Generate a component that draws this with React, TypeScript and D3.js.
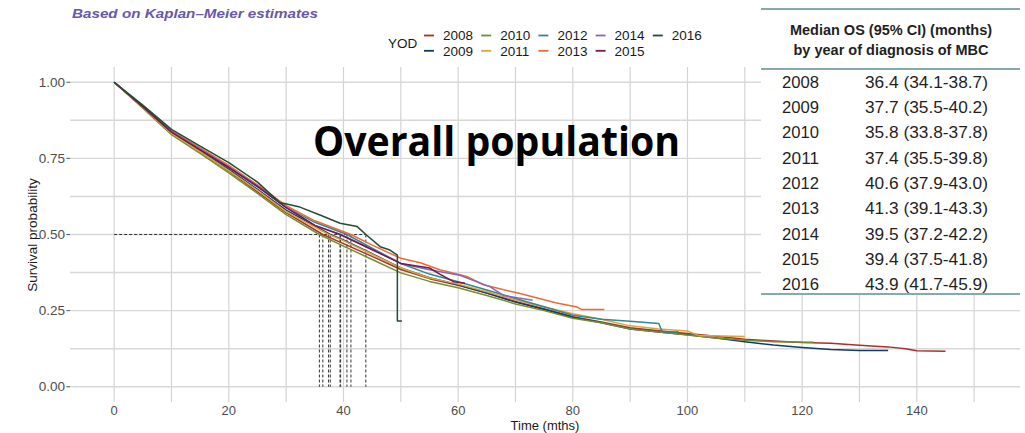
import React from "react";
import { scaleLinear, line, curveLinear, range } from "d3";

// survival curves, one pair of arrays per year of diagnosis
const t2008 = [0, 5, 10, 15, 20, 25, 30, 36.4, 40, 45, 50, 55, 60, 65, 70, 75, 80, 85, 90, 95, 100, 105, 110, 115, 120, 125, 130, 135, 138, 140, 145];
const s2008 = [1, 0.918, 0.832, 0.772, 0.708, 0.64, 0.572, 0.5, 0.47, 0.428, 0.385, 0.355, 0.333, 0.308, 0.28, 0.256, 0.23, 0.213, 0.194, 0.184, 0.175, 0.166, 0.156, 0.15, 0.145, 0.143, 0.136, 0.131, 0.125, 0.118, 0.117];

const t2009 = [0, 5, 10, 15, 20, 25, 30, 37.7, 40, 45, 50, 55, 60, 65, 70, 75, 80, 85, 90, 95, 100, 105, 110, 115, 120, 125, 130, 135];
const s2009 = [1, 0.92, 0.836, 0.776, 0.714, 0.648, 0.58, 0.5, 0.482, 0.437, 0.39, 0.358, 0.335, 0.308, 0.278, 0.254, 0.228, 0.21, 0.19, 0.18, 0.171, 0.16, 0.148, 0.137, 0.129, 0.122, 0.119, 0.119];

const t2010 = [0, 5, 10, 15, 20, 25, 30, 35.8, 40, 45, 50, 55, 60, 65, 70, 75, 80, 85, 90, 95, 100, 105, 110, 115, 122];
const s2010 = [1, 0.915, 0.828, 0.766, 0.702, 0.635, 0.565, 0.5, 0.462, 0.418, 0.374, 0.346, 0.325, 0.3, 0.272, 0.25, 0.225, 0.21, 0.19, 0.18, 0.17, 0.16, 0.153, 0.148, 0.146];

const t2011 = [0, 5, 10, 15, 20, 25, 30, 37.4, 40, 45, 50, 55, 60, 65, 70, 75, 80, 85, 90, 95, 100, 102, 110];
const s2011 = [1, 0.918, 0.832, 0.772, 0.71, 0.645, 0.575, 0.5, 0.48, 0.435, 0.39, 0.357, 0.337, 0.312, 0.285, 0.262, 0.24, 0.222, 0.2, 0.19, 0.183, 0.168, 0.165];

const t2012 = [0, 5, 10, 15, 20, 25, 30, 35, 40.6, 45, 50, 55, 60, 65, 70, 75, 80, 85, 90, 95, 95.6, 98.5];
const s2012 = [1, 0.922, 0.84, 0.78, 0.72, 0.656, 0.59, 0.54, 0.5, 0.455, 0.405, 0.37, 0.345, 0.318, 0.29, 0.263, 0.235, 0.222, 0.215, 0.208, 0.18, 0.18];

const t2013 = [0, 5, 10, 15, 20, 25, 30, 35, 41.3, 45, 50, 53.4, 56.8, 61.5, 64.4, 70.8, 77, 80.7, 81.5, 85.5];
const s2013 = [1, 0.92, 0.84, 0.784, 0.727, 0.663, 0.595, 0.545, 0.5, 0.465, 0.422, 0.407, 0.384, 0.362, 0.335, 0.306, 0.276, 0.262, 0.254, 0.254];

const t2014 = [0, 5, 10, 15, 20, 25, 30, 35, 39.5, 45, 50, 55, 60.3, 65.6, 67.9, 73];
const s2014 = [1, 0.92, 0.838, 0.78, 0.722, 0.66, 0.59, 0.53, 0.5, 0.452, 0.405, 0.384, 0.366, 0.328, 0.3, 0.284];

const t2015 = [0, 5, 10, 15, 20, 25, 30, 35, 39.4, 45, 50, 55, 56.8, 59.2, 61.2];
const s2015 = [1, 0.92, 0.836, 0.778, 0.72, 0.658, 0.588, 0.53, 0.5, 0.45, 0.405, 0.39, 0.37, 0.345, 0.34];

const t2016 = [0, 5, 10, 15, 20, 25, 28.9, 32.4, 35.9, 39.4, 42.4, 43.9, 46.4, 48.1, 49.4, 49.4, 50.2];
const s2016 = [1, 0.925, 0.845, 0.79, 0.736, 0.672, 0.605, 0.59, 0.564, 0.537, 0.526, 0.5, 0.46, 0.449, 0.432, 0.216, 0.216];

const years = [2008, 2009, 2010, 2011, 2012, 2013, 2014, 2015, 2016];
const colors = ["#a8302f", "#123a68", "#728f2e", "#dca43c", "#33888a", "#ee6a33", "#8766c2", "#701a4f", "#214f32"];
const times = [t2008, t2009, t2010, t2011, t2012, t2013, t2014, t2015, t2016];
const survs = [s2008, s2009, s2010, s2011, s2012, s2013, s2014, s2015, s2016];

// table on the right
const medianOS = [36.4, 37.7, 35.8, 37.4, 40.6, 41.3, 39.5, 39.4, 43.9];
const ciLow = [34.1, 35.5, 33.8, 35.5, 37.9, 39.1, 37.2, 37.5, 41.7];
const ciHigh = [38.7, 40.2, 37.8, 39.8, 43.0, 43.3, 42.2, 41.8, 45.9];

const xTicks = [0, 20, 40, 60, 80, 100, 120, 140];
const yTicks = [0, 0.25, 0.5, 0.75, 1];

const W = 1025;
const H = 433;
const font = "'Liberation Sans', Arial, Helvetica, sans-serif";

export default function App() {
  const x = scaleLinear().domain([-7.7, 158]).range([70, 1020]);
  const y = scaleLinear().domain([-0.05, 1.05]).range([402, 67]);

  const path = line<[number, number]>()
    .x((d) => x(d[0]))
    .y((d) => y(d[1]))
    .curve(curveLinear);

  const vGrid = range(0, 151, 10);
  const hGrid = range(0, 1.0001, 0.125);
  const maxMedian = Math.max(...medianOS);

  const rowY = (i: number) => 82 + i * 25.3;

  return (
    <svg
      width={W}
      height={H}
      style={{ position: "absolute", left: 0, top: 0, background: "#fff" }}
      fontFamily={font}
    >
      {/* grid */}
      {vGrid.map((v) => (
        <line key={`vg${v}`} x1={x(v)} x2={x(v)} y1={67} y2={402} stroke="#d3d3d3" strokeWidth={1.2} />
      ))}
      {hGrid.map((v) => (
        <line key={`hg${v}`} x1={70} x2={1020} y1={y(v)} y2={y(v)} stroke="#d8d8d8" strokeWidth={1.4} />
      ))}

      {/* y axis */}
      {yTicks.map((v) => (
        <g key={`yt${v}`}>
          <line x1={66.5} x2={70} y1={y(v)} y2={y(v)} stroke="#4d4d4d" strokeWidth={1} />
          <text x={65} y={y(v)} dy="0.35em" textAnchor="end" fontSize={13.5} fill="#4d4d4d">
            {v.toFixed(2)}
          </text>
        </g>
      ))}
      <text
        transform={`translate(37,235) rotate(-90)`}
        textAnchor="middle"
        fontSize={13.5}
        fill="#1a1a1a"
      >
        Survival probability
      </text>

      {/* x axis */}
      {xTicks.map((v) => (
        <text key={`xt${v}`} x={x(v)} y={415} textAnchor="middle" fontSize={13} fill="#4d4d4d">
          {v}
        </text>
      ))}
      <text x={545} y={430} textAnchor="middle" fontSize={13} fill="#1a1a1a">
        Time (mths)
      </text>

      {/* median guides */}
      <line
        x1={x(0)}
        x2={x(maxMedian)}
        y1={y(0.5)}
        y2={y(0.5)}
        stroke="#333"
        strokeWidth={1}
        strokeDasharray="3,2"
      />
      {medianOS.map((m, i) => (
        <line
          key={`md${i}`}
          x1={x(m)}
          x2={x(m)}
          y1={y(0.5)}
          y2={y(0)}
          stroke="#333"
          strokeWidth={1}
          strokeDasharray="3,2"
        />
      ))}

      {/* curves */}
      {years.map((yr, i) => (
        <path
          key={`c${yr}`}
          d={path(times[i].map((t, j) => [t, survs[i][j]] as [number, number])) ?? ""}
          fill="none"
          stroke={colors[i]}
          strokeWidth={1.5}
          strokeLinejoin="round"
        />
      ))}

      {/* title */}
      <text
        x={72}
        y={18}
        fontSize={13.5}
        fontWeight="bold"
        fontStyle="italic"
        fill="#6a58a8"
        textLength={246}
        lengthAdjust="spacingAndGlyphs"
      >
        Based on Kaplan–Meier estimates
      </text>

      {/* legend */}
      <text x={388} y={48} fontSize={13.5} fill="#1a1a1a">
        YOD
      </text>
      {years.map((yr, i) => {
        const col = Math.floor(i / 2);
        const row = i % 2;
        const lx = 424 + col * 57.2;
        const ly = 35.5 + row * 15.3;
        return (
          <g key={`lg${yr}`}>
            <line x1={lx} x2={lx + 10} y1={ly} y2={ly} stroke={colors[i]} strokeWidth={1.8} />
            <text x={lx + 19} y={ly} dy="0.36em" fontSize={13.5} fill="#1a1a1a">
              {yr}
            </text>
          </g>
        );
      })}

      {/* overlay label */}
      <text
        x={313}
        y={156}
        fontFamily="'Open Sans', 'Noto Sans', sans-serif"
        fontWeight="bold"
        fontSize={42}
        fill="#000"
        textLength={367}
        lengthAdjust="spacingAndGlyphs"
      >
        Overall population
      </text>

      {/* median OS table */}
      <rect x={761} y={0} width={W - 761} height={295} fill="#fff" />
      <line x1={761} x2={1020} y1={9} y2={9} stroke="#5b8e92" strokeWidth={1.5} />
      <line x1={761} x2={1020} y1={69} y2={69} stroke="#5b8e92" strokeWidth={1.5} />
      <line x1={761} x2={1020} y1={294} y2={294} stroke="#5b8e92" strokeWidth={1.5} />
      <text x={891} y={35} textAnchor="middle" fontSize={14.5} fontWeight="bold" fill="#1f1f1f">
        Median OS (95% CI) (months)
      </text>
      <text x={891} y={55} textAnchor="middle" fontSize={14.5} fontWeight="bold" fill="#1f1f1f">
        by year of diagnosis of MBC
      </text>
      {years.map((yr, i) => (
        <g key={`tr${yr}`}>
          <text x={782} y={rowY(i)} dy="0.36em" fontSize={16} fill="#1f1f1f" textLength={37} lengthAdjust="spacingAndGlyphs">
            {yr}
          </text>
          <text x={865} y={rowY(i)} dy="0.36em" fontSize={16} fill="#1f1f1f" textLength={123} lengthAdjust="spacingAndGlyphs">
            {`${medianOS[i].toFixed(1)} (${ciLow[i].toFixed(1)}-${ciHigh[i].toFixed(1)})`}
          </text>
        </g>
      ))}
    </svg>
  );
}
